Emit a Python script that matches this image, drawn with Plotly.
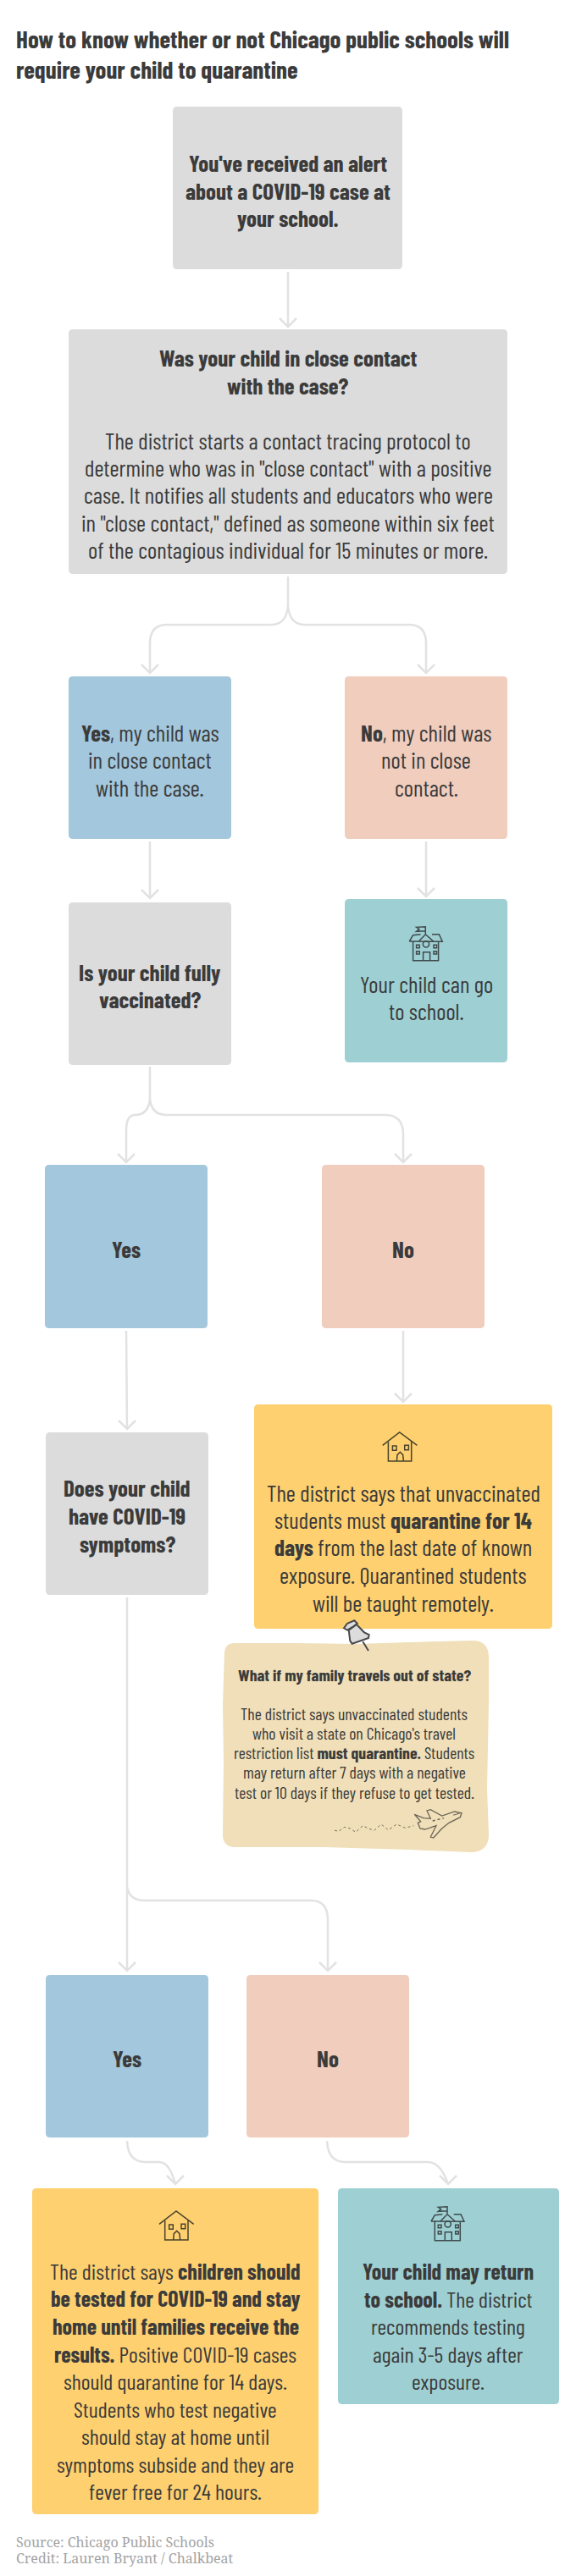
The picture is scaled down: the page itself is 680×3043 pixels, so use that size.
# %%
import plotly.graph_objects as go

# %%
# Textos do fluxograma
title_lines = ["<b>How to know whether or not Chicago public schools will</b>",
               "<b>require your child to quarantine</b>"]
alert_lines = ["<b>You've received an alert</b>", "<b>about a COVID-19 case at</b>", "<b>your school.</b>"]
contact_head = ["<b>Was your child in close contact</b>", "<b>with the case?</b>"]
contact_body = ["The district starts a contact tracing protocol to",
                "determine who was in \"close contact\" with a positive",
                "case. It notifies all students and educators who were",
                "in \"close contact,\" defined as someone within six feet",
                "of the contagious individual for 15 minutes or more."]
close_yes = ["<b>Yes</b>, my child was", "in close contact", "with the case."]
close_no = ["<b>No</b>, my child was", "not in close", "contact."]
vaccinated = ["<b>Is your child fully</b>", "<b>vaccinated?</b>"]
can_go = ["Your child can go", "to school."]
yes_label = ["<b>Yes</b>"]
no_label = ["<b>No</b>"]
symptoms = ["<b>Does your child</b>", "<b>have COVID-19</b>", "<b>symptoms?</b>"]
unvaccinated = ["The district says that unvaccinated",
                "students must <b>quarantine for 14</b>",
                "<b>days</b> from the last date of known",
                "exposure. Quarantined students",
                "will be taught remotely."]
travel_head = ["<b>What if my family travels out of state?</b>"]
travel_body = ["The district says unvaccinated students",
               "who visit a state on Chicago's travel",
               "restriction list <b>must quarantine.</b> Students",
               "may return after 7 days with a negative",
               "test or 10 days if they refuse to get tested."]
tested = ["The district says <b>children should</b>",
          "<b>be tested for COVID-19 and stay</b>",
          "<b>home until families receive the</b>",
          "<b>results.</b> Positive COVID-19 cases",
          "should quarantine for 14 days.",
          "Students who test negative",
          "should stay at home until",
          "symptoms subside and they are",
          "fever free for 24 hours."]
may_return = ["<b>Your child may return</b>",
              "<b>to school.</b> The district",
              "recommends testing",
              "again 3-5 days after",
              "exposure."]
source_lines = ["Source: Chicago Public Schools", "Credit: Lauren Bryant / Chalkbeat"]

# %%
# Cores e fontes
GRAY, BLUE, PINK, TEAL, YELLOW, NOTE = "#dcdcdc", "#a3c7dc", "#f0cdbd", "#9ed0d3", "#fed06f", "#f0dfb8"
INK, LINE = "#3b3b3b", "#e2e2e2"
COND = "Barlow Condensed"
SERIF = "Noto Serif"

fig = go.Figure()
shapes = []
notes = []


def rbox(x0, x1, y0, y1, color, r=5):
    path = (f"M{x0+r},{y0} L{x1-r},{y0} Q{x1},{y0} {x1},{y0+r} L{x1},{y1-r} Q{x1},{y1} {x1-r},{y1} "
            f"L{x0+r},{y1} Q{x0},{y1} {x0},{y1-r} L{x0},{y0+r} Q{x0},{y0} {x0+r},{y0} Z")
    shapes.append(dict(type="path", path=path, fillcolor=color, line_width=0, layer="below"))


def text_block(lines, cx, ys, size, color=INK, family=COND, anchor="center"):
    for line, y in zip(lines, ys):
        notes.append(dict(x=cx, y=y, text=line, showarrow=False, xanchor=anchor, yanchor="middle",
                          font=dict(family=family, size=size, color=color)))


def stroke(path, color=LINE, width=2.5, fill=None, dash=None):
    s = dict(type="path", path=path, line=dict(color=color, width=width, dash=dash))
    if fill:
        s["fillcolor"] = fill
    shapes.append(s)


def arrow(path, tipx, tipy):
    # linha + ponta em V
    stroke(path)
    stroke(f"M{tipx-10},{tipy-10} L{tipx},{tipy} L{tipx+10},{tipy-10}")


def icon_path(pts, ox, oy, closed=False):
    # pontos lidos no zoom 3x
    d = "M" + " L".join(f"{ox+a/3:.1f},{oy+b/3:.1f}" for a, b in pts)
    return d + (" Z" if closed else "")


def school(cx, cy):
    ox, oy = cx - 115 / 3, cy - 115 / 3
    ink = "#3f4a4c"
    for pts in [[(112, 70), (112, 45), (80, 47), (90, 54), (80, 62), (112, 60)],
                [(55, 97), (68, 75), (95, 72)], [(88, 97), (112, 72), (140, 97)],
                [(135, 72), (160, 72), (172, 98), (55, 97)],
                [(68, 97), (68, 165), (158, 165), (158, 97)],
                [(104, 165), (104, 135), (128, 135), (128, 165)]]:
        stroke(icon_path(pts, ox, oy), ink, 1.5)
    for a, b in [(80, 110), (80, 132), (141, 110), (141, 132)]:
        stroke(icon_path([(a, b), (a + 11, b), (a + 11, b + 10), (a, b + 10)], ox, oy, True), ink, 1.5)
    shapes.append(dict(type="circle", x0=ox + 103 / 3, x1=ox + 125 / 3, y0=oy + 96 / 3, y1=oy + 118 / 3,
                       line=dict(color=ink, width=1.5)))


def house(cx, cy):
    ox, oy = cx - 110 / 3, cy - 90 / 3
    ink = "#4a432c"
    for pts in [[(50, 82), (110, 36), (172, 82)], [(70, 70), (70, 138), (152, 138), (152, 68)],
                [(100, 138), (102, 116), (112, 106), (122, 116), (124, 138)]]:
        stroke(icon_path(pts, ox, oy), ink, 1.5)
    for a, b in [(85, 84), (128, 82)]:
        stroke(icon_path([(a, b), (a + 14, b), (a + 14, b + 16), (a, b + 16)], ox, oy, True), ink, 1.5)


# %%
# Caixas
rbox(204, 475, 126, 318, GRAY)
rbox(81, 599, 389, 678, GRAY)
rbox(81, 273, 799, 991, BLUE)
rbox(407, 599, 799, 991, PINK)
rbox(81, 273, 1066, 1258, GRAY)
rbox(407, 599, 1062, 1255, TEAL)
rbox(53, 245, 1376, 1569, BLUE)
rbox(380, 572, 1376, 1569, PINK)
rbox(54, 246, 1692, 1884, GRAY)
rbox(300, 652, 1659, 1924, YELLOW)
rbox(54, 246, 2333, 2525, BLUE)
rbox(291, 483, 2333, 2525, PINK)
rbox(38, 376, 2585, 2970, YELLOW)
rbox(399, 660, 2585, 2840, TEAL)

# Nota com borda irregular
shapes.append(dict(type="path", fillcolor=NOTE, line_width=0, layer="below",
                   path="M265,1952 Q266,1941 277,1941 L350,1941 L420,1942 L483,1940 L558,1938 "
                        "Q577,1938 577,1958 L577,2013 L575,2113 L577,2167 Q577,2188 555,2188 "
                        "L483,2185 L383,2182 L278,2182 Q263,2182 263,2167 L264,2080 L263,2013 Z"))

# %%
# Conectores
arrow("M340,321 L340,386", 340, 386)
arrow("M340,681 L340,716 Q338,738 320,738 L197,738 Q177,738 177,760 L177,795", 177, 795)
arrow("M340,716 Q342,738 360,738 L483,738 Q503,738 503,760 L503,795", 503, 795)
arrow("M177,994 L177,1061", 177, 1061)
arrow("M503,994 L503,1059", 503, 1059)
arrow("M177,1260 L177,1298 Q175,1317 160,1317 Q149,1317 149,1335 L149,1373", 149, 1373)
arrow("M177,1298 Q179,1317 196,1317 L454,1317 Q476,1317 476,1340 L476,1373", 476, 1373)
arrow("M149,1572 L150,1688", 150, 1688)
arrow("M476,1572 L476,1656", 476, 1656)
arrow("M150,1887 L150,2328", 150, 2328)
arrow("M150,2229 Q153,2245 170,2245 L367,2245 Q387,2245 387,2268 L387,2328", 387, 2328)
arrow("M150,2529 Q151,2554 172,2554 L188,2554 Q200,2554 207,2580", 207, 2580)
arrow("M386,2529 Q387,2554 408,2554 L505,2554 Q520,2554 529,2580", 529, 2580)

# %%
# Icones
school(503.3, 1118)
house(471.7, 1710)
house(208, 2630)
school(529, 2630)

# Percevejo da nota
stroke(icon_path([(100, 103), (120, 135)], 395, 1905), "#4a4a4a", 2)
stroke(icon_path([(50, 62), (55, 100), (62, 110), (120, 90), (122, 78), (105, 70), (78, 42)], 395, 1905, True),
       "#4a4a4a", 2, "#dcdcdc")
stroke(icon_path([(33, 55), (45, 38), (70, 28), (80, 38), (65, 50), (45, 62)], 395, 1905, True),
       "#4a4a4a", 2, "#dcdcdc")

# Aviao e rastro pontilhado
stroke(icon_path([(298, 55), (330, 68), (355, 70), (342, 42), (355, 38), (395, 60), (440, 45), (465, 50),
                  (460, 65), (420, 85), (395, 105), (365, 138), (355, 135), (375, 95), (335, 108),
                  (318, 105), (310, 85), (320, 80)], 390, 2125, True), "#6b6658", 1.3)
stroke(icon_path([(435, 58), (460, 50)], 390, 2125), "#6b6658", 1.2)
stroke(icon_path([(362, 78), (402, 68)], 390, 2125), "#6b6658", 1.5, dash="dot")
stroke(icon_path([(15, 112), (30, 115), (50, 100), (70, 105), (90, 118), (115, 95), (135, 105), (155, 112),
                  (180, 90), (205, 110), (235, 90), (265, 103), (295, 95)], 390, 2125), "#77705e", 1, dash="dot")

# %%
# Textos
text_block(title_lines, 17, [45.5, 81], 29, anchor="left")
text_block(alert_lines, 340, [192, 224.5, 257.5], 27)
text_block(contact_head, 340, [422, 455], 27)
text_block(contact_body, 340, [520, 552, 584, 617, 649], 27)
text_block(close_yes, 177, [865, 897, 930], 27)
text_block(close_no, 503, [865, 897, 930], 27)
text_block(vaccinated, 177, [1148, 1180], 27)
text_block(can_go, 503, [1162, 1194], 27)
text_block(yes_label, 149, [1474.5], 27)
text_block(no_label, 476, [1474.5], 27)
text_block(symptoms, 150, [1757.5, 1790, 1823], 27)
text_block(unvaccinated, 476, [1762.5, 1795, 1827.5, 1860, 1892.5], 27)
text_block(travel_head, 418, [1978], 19.8)
text_block(travel_body, 418, [2024, 2047, 2070, 2093, 2116.5], 19.8)
text_block(yes_label, 150, [2431], 27)
text_block(no_label, 387, [2431], 27)
text_block(tested, 207, [2682.5, 2715, 2747.5, 2780, 2812.5, 2845, 2877.5, 2910, 2942.5], 26)
text_block(may_return, 529, [2682.5, 2715, 2747.5, 2780, 2812.5], 26)
text_block(source_lines, 17, [3002.5, 3022], 16, "#a3a3a3", SERIF, "left")

# %%
fig.update_layout(
    width=680, height=3043, margin=dict(l=0, r=0, t=0, b=0),
    paper_bgcolor="white", plot_bgcolor="white", showlegend=False,
    xaxis=dict(range=[0, 680], visible=False, fixedrange=True),
    yaxis=dict(range=[3043, 0], visible=False, fixedrange=True),
    shapes=shapes, annotations=notes,
)
fig.write_html("out.html", post_script="document.body.style.margin='0';", config={"displayModeBar": False})
